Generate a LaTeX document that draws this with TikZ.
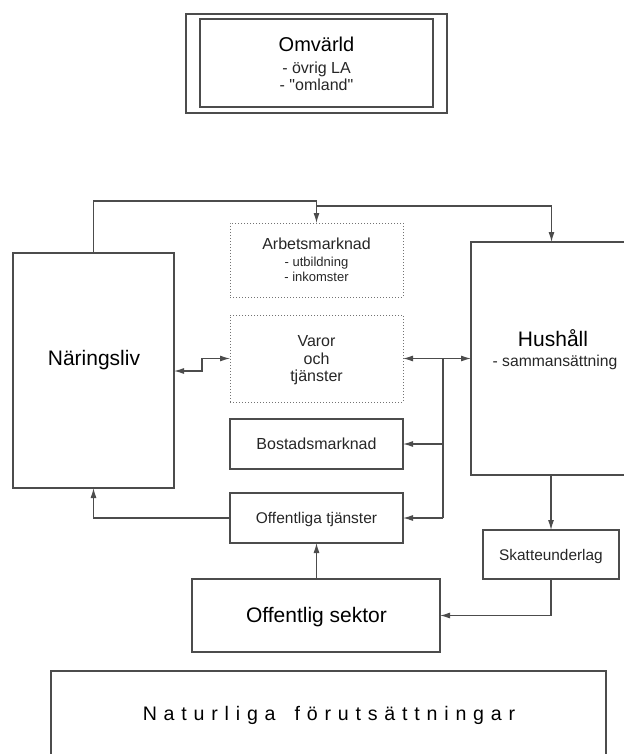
\documentclass[tikz,border=0pt]{standalone}
\usepackage{fontspec}
\setmainfont{Liberation Sans}[Ligatures=TeXOff]
\usetikzlibrary{arrows.meta}
\newcommand\fs[1]{\fontsize{#1}{#1}\selectfont}
\newcommand\lsp{\kern6.8pt}
\begin{document}
\begin{tikzpicture}[x=1pt,y=-1pt,
  box/.style={draw=black!70, line width=1.1pt, inner sep=0pt, outer sep=0pt},
  dotbox/.style={box, draw=black!55, line width=1pt, dash pattern=on 1.3pt off 1.7pt},
  conn/.style={draw=black!70, line width=1.1pt},
  arr/.style={conn, -{Latex[length=10pt,width=6pt]}},
  darr/.style={conn, {Latex[length=10pt,width=6pt]}-{Latex[length=10pt,width=6pt]}},
  txt/.style={inner sep=0pt, anchor=base, text=black!85}]
\useasboundingbox (0,0) rectangle (623,754);

% Omvärld
\node[box, minimum width=261pt, minimum height=99pt] (omout) at (316.5,63.5) {};
\node[box, minimum width=233pt, minimum height=88pt] (omv) at (316.5,63) {};
\node[txt, font=\fs{20}, text=black] (omt1) at (316.5,52) {Omvärld};
\node[txt, font=\fs{16}] (omt2) at (316.5,73.7) {- övrig LA};
\node[txt, font=\fs{16}] (omt3) at (316.5,90.7) {- "omland"};

% Arbetsmarknad
\node[dotbox, minimum width=173pt, minimum height=74pt] (arb) at (316.5,260) {};
\node[txt, font=\fs{16}] (arbt1) at (316.5,249.5) {Arbetsmarknad};
\node[txt, font=\fs{13}] (arbt2) at (316.5,266) {- utbildning};
\node[txt, font=\fs{13}] (arbt3) at (316.5,281.5) {- inkomster};

% Varor och tjänster
\node[dotbox, minimum width=173pt, minimum height=87pt] (var) at (316.5,358.5) {};
\node[txt, font=\fs{16}] (vart1) at (316.5,346) {Varor};
\node[txt, font=\fs{16}] (vart2) at (316.5,364) {och};
\node[txt, font=\fs{16}] (vart3) at (316.5,381.7) {tjänster};

% Bostadsmarknad
\node[box, minimum width=173pt, minimum height=50pt] (bos) at (316.5,444) {};
\node[txt, font=\fs{16}] (bost) at (316.5,449.7) {Bostadsmarknad};

% Offentliga tjänster
\node[box, minimum width=173pt, minimum height=50pt] (ofs) at (316.5,518) {};
\node[txt, font=\fs{15.5}] (ofst) at (316.5,523.5) {Offentliga tjänster};

% Näringsliv
\node[box, minimum width=161pt, minimum height=235pt] (nar) at (93.5,370.5) {};
\node[txt, font=\fs{21}, text=black] (nart) at (94,365) {Näringsliv};

% Hushåll
\node[box, minimum width=155pt, minimum height=233pt] (hus) at (548.5,358.5) {};
\node[txt, font=\fs{21}, text=black] (hust1) at (553,346.7) {Hushåll};
\node[txt, font=\fs{15.7}] (hust2) at (555,366.7) {- sammansättning};

% Skatteunderlag
\node[box, minimum width=136pt, minimum height=49pt] (skat) at (551,554.5) {};
\node[txt, font=\fs{15.4}] (skatt) at (551,560.5) {Skatteunderlag};

% Offentlig sektor
\node[box, minimum width=248pt, minimum height=73pt] (osek) at (316,615.5) {};
\node[txt, font=\fs{21}, text=black] (osekt) at (316.5,622.7) {Offentlig sektor};

% Naturliga förutsättningar
\node[box, minimum width=555pt, minimum height=87pt] (nat) at (328.5,714.5) {};
\node[txt, font=\fs{19.6}, text=black] (natt) at (329,720.7)
  {N\lsp a\lsp t\lsp u\lsp r\lsp l\lsp i\lsp g\lsp a\lsp\ \lsp f\lsp ö\lsp r\lsp u\lsp t\lsp s\lsp ä\lsp t\lsp t\lsp n\lsp i\lsp n\lsp g\lsp a\lsp r};

% connectors
\coordinate (c1) at (316.5,201);
\draw[arr] (nar.north) |- (c1) -- (arb.north);
\coordinate (c2) at (316.5,206);
\coordinate (c3) at (551.5,206);
\draw[arr] (c2) -- (c3) -- (c3 |- hus.north);

\coordinate (s1) at (202,371);
\draw[darr] (s1 -| nar.east) -- (s1) |- (var.west);

\draw[darr] (var.east) -- (var.east -| hus.west);
\coordinate (j) at (443,358.5);
\draw[conn] (j) -- (j |- ofs.east);
\draw[arr] (j |- bos.east) -- (bos.east);
\draw[arr] (j |- ofs.east) -- (ofs.east);
\draw[arr] (ofs.west) -| (nar.south);
\draw[arr] (ofs.south |- osek.north) -- (ofs.south);
\draw[arr] (skat.north |- hus.south) -- (skat.north);
\draw[arr] (skat.south) |- (osek.east);
\end{tikzpicture}
\end{document}
